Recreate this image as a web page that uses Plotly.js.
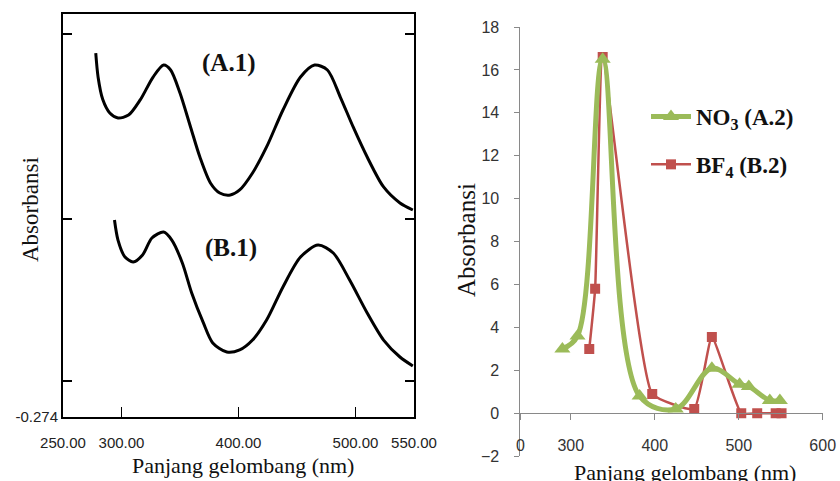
<!DOCTYPE html>
<html>
<head>
<meta charset="utf-8">
<script src="https://cdn.plot.ly/plotly-3.0.1.min.js"></script>
<style>
html,body{margin:0;padding:0;background:#fff;}
#chart{width:840px;height:481px;}
</style>
</head>
<body>
<div id="chart"></div>
<script>
// ---- Left panel: UV-Vis spectra (arbitrary absorbance scale, bottom = -0.274)
const A1_nm  = [278, 280, 284, 290, 297, 306, 316, 327, 336, 342, 350, 359, 367, 376, 384, 393, 401, 412, 424, 438, 453, 465, 476, 487, 498, 510, 524, 538, 549];
const A1_abs = [2.00, 1.85, 1.71, 1.626, 1.595, 1.613, 1.708, 1.851, 1.926, 1.895, 1.751, 1.539, 1.351, 1.189, 1.126, 1.114, 1.145, 1.251, 1.414, 1.645, 1.851, 1.926, 1.895, 1.726, 1.539, 1.351, 1.164, 1.064, 1.020];
const B1_nm  = [294, 297, 303, 310, 318, 326, 336, 343, 352, 360, 370, 378, 390, 401, 412, 424, 438, 453, 468, 481, 495, 510, 524, 538, 549];
const B1_abs = [0.957, 0.832, 0.726, 0.695, 0.739, 0.845, 0.882, 0.832, 0.689, 0.501, 0.314, 0.189, 0.132, 0.145, 0.207, 0.332, 0.539, 0.726, 0.801, 0.751, 0.582, 0.376, 0.207, 0.101, 0.045];
const leftXTicks = [250, 300, 400, 500, 550];
const leftYTickVals = [-0.274, -0.049, 0.963, 2.120];
const leftYTickText = ["-0.274", "", "", ""];

// ---- Right panel: peak absorbance
const NO3_nm  = [290, 308, 338, 382, 425, 468, 501, 512, 537, 549];
const NO3_abs = [3.0, 3.6, 16.5, 0.8, 0.2, 2.1, 1.35, 1.25, 0.6, 0.6];
const BF4_nm  = [322, 329, 338, 397, 447, 468, 503, 522, 544, 551];
const BF4_abs = [3.0, 5.8, 16.6, 0.9, 0.2, 3.55, 0, 0, 0, 0];
const rightXTickVals = [240, 300, 400, 500, 600];
const rightXTickText = ["0", "300", "400", "500", "600"];

const W = 840, H = 481;
const px = v => v / W;
const py = v => (H - v) / H;
const serif = "'Liberation Serif', 'Times New Roman', serif";
const sans = "'Liberation Sans', Arial, sans-serif";
const green = "#9BBB59", red = "#C0504D", gray = "#898989";

const traces = [
  {x: A1_nm, y: A1_abs, xaxis: "x", yaxis: "y", mode: "lines", showlegend: false,
   line: {color: "#000", width: 3, shape: "spline", smoothing: 0.8}, hoverinfo: "skip"},
  {x: B1_nm, y: B1_abs, xaxis: "x", yaxis: "y", mode: "lines", showlegend: false,
   line: {color: "#000", width: 3, shape: "spline", smoothing: 0.8}, hoverinfo: "skip"},
  {x: BF4_nm, y: BF4_abs, xaxis: "x2", yaxis: "y2", mode: "lines+markers",
   name: "<b>BF<sub>4</sub> (B.2)</b>", legendgroup: "b", legendrank: 2,
   line: {color: red, width: 2.5, shape: "spline", smoothing: 0.4},
   marker: {symbol: "square", size: 10, color: red}},
  {x: NO3_nm, y: NO3_abs, xaxis: "x2", yaxis: "y2", mode: "lines+markers",
   name: "<b>NO<sub>3</sub> (A.2)</b>", legendgroup: "a", legendrank: 1,
   line: {color: green, width: 5, shape: "spline", smoothing: 1},
   marker: {symbol: "triangle-up", size: 14, color: green}}
];

const ann = (text, x, y, size, extra) => Object.assign({
  text: text, x: px(x), y: py(y), xref: "paper", yref: "paper", showarrow: false,
  xanchor: "center", yanchor: "middle", font: {family: serif, size: size, color: "#111"}
}, extra || {});

const layout = {
  width: W, height: H,
  margin: {l: 0, r: 0, t: 0, b: 0},
  paper_bgcolor: "#fff", plot_bgcolor: "#fff",
  showlegend: true,
  legend: {x: px(646), y: py(95), xanchor: "left", yanchor: "top",
           font: {family: serif, size: 23, color: "#111"},
           tracegroupgap: 15, itemwidth: 40, bgcolor: "rgba(0,0,0,0)"},
  xaxis: {domain: [px(63), px(414)], range: [250, 550], anchor: "y",
          showline: true, linecolor: "#000", linewidth: 2, mirror: true,
          ticks: "inside", ticklen: 10, tickcolor: "#000", tickwidth: 1.5,
          tickvals: leftXTicks, tickformat: ".2f", showgrid: false, zeroline: false,
          ticklabelstandoff: 11,
          tickfont: {family: sans, size: 15, color: "#222"}},
  yaxis: {domain: [py(417), py(14)], range: [-0.274, 2.245], anchor: "x",
          showline: true, linecolor: "#000", linewidth: 2, mirror: "ticks",
          ticks: "inside", ticklen: 9, tickcolor: "#000", tickwidth: 1.5,
          tickvals: leftYTickVals, ticktext: leftYTickText, showgrid: false, zeroline: false,
          tickfont: {family: sans, size: 15, color: "#222"}},
  xaxis2: {domain: [px(520.4), px(822.7)], range: [240, 600], anchor: "free", position: py(413.3),
           showline: true, linecolor: gray, linewidth: 1,
           ticks: "outside", ticklen: 6, tickcolor: gray,
           tickvals: rightXTickVals, ticktext: rightXTickText, showgrid: false, zeroline: false,
           ticklabelstandoff: 11,
           tickfont: {family: sans, size: 16, color: "#333"}},
  yaxis2: {domain: [py(456.2), py(27)], range: [-2, 18], anchor: "x2",
           showline: true, linecolor: gray, linewidth: 1,
           ticks: "outside", ticklen: 5, tickcolor: gray, dtick: 2, tick0: 0,
           showgrid: false, zeroline: false, ticklabelstandoff: 12,
           tickfont: {family: sans, size: 16, color: "#333"}},
  annotations: [
    ann("<b>(A.1)</b>", 229, 63, 25),
    ann("<b>(B.1)</b>", 231, 248, 25),
    ann("Absorbansi", 30, 210, 23, {textangle: -90}),
    ann("Panjang gelombang (nm)", 243, 465, 22),
    ann("Absorbansi", 466, 240, 25, {textangle: -90}),
    ann("Panjang gelombang (nm)", 685, 472, 22)
  ]
};

Plotly.newPlot("chart", traces, layout, {displayModeBar: false, staticPlot: true});
</script>
</body>
</html>
